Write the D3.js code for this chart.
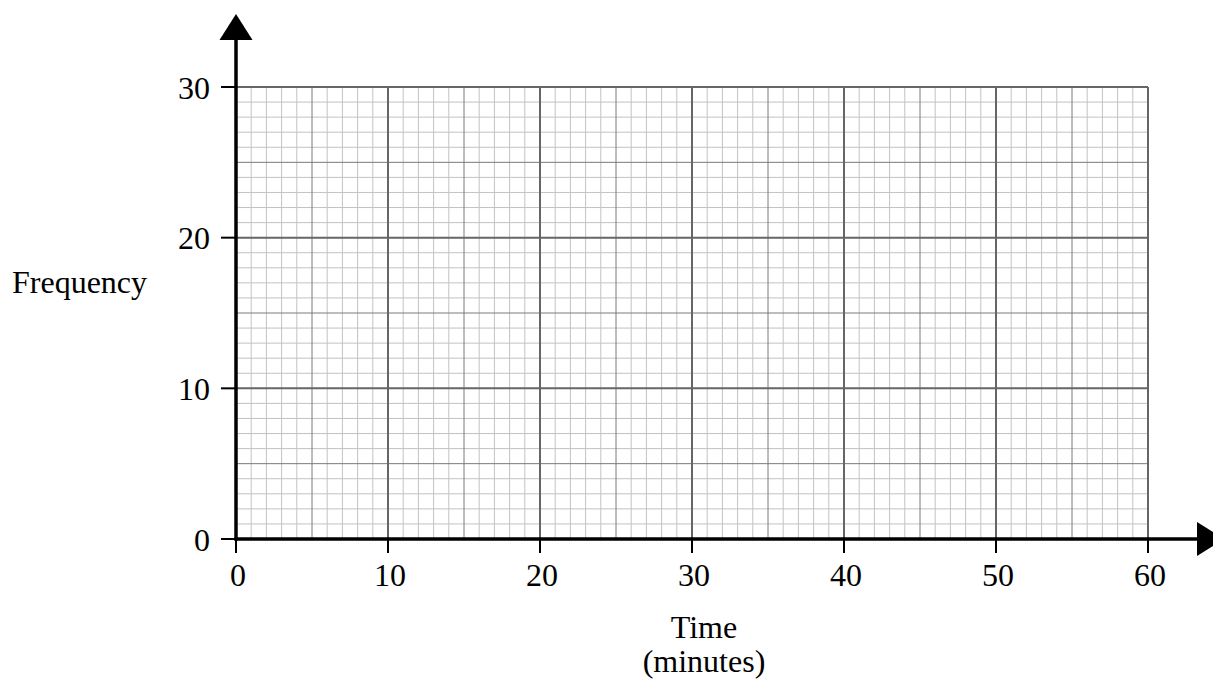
<!DOCTYPE html>
<html><head><meta charset="utf-8">
<script src="https://cdn.jsdelivr.net/npm/d3@7"></script>
<style>body{margin:0;background:#fff}svg{display:block}text{font-family:"Liberation Serif","Times New Roman",serif;fill:#000}</style>
</head><body>
<svg id="c" width="1213" height="681"></svg>
<script>
const xDomain = [0, 60];
const yDomain = [0, 30];
const xTicks = [0, 10, 20, 30, 40, 50, 60];
const yTicks = [0, 10, 20, 30];
const xLabel = ["Time", "(minutes)"];
const yLabel = "Frequency";

const svg = d3.select("#c");
const x = d3.scaleLinear().domain(xDomain).range([236, 1148]);
const y = d3.scaleLinear().domain(yDomain).range([539, 87]);

const g = svg.append("g");
const minorX = d3.range(xDomain[0], xDomain[1] + 1, 1);
const minorY = d3.range(yDomain[0], yDomain[1] + 1, 1);
function drawGrid(xs, ys, color, w) {
  g.selectAll(null).data(xs).join("line")
    .attr("x1", d => x(d)).attr("x2", d => x(d))
    .attr("y1", y(yDomain[0])).attr("y2", y(yDomain[1]))
    .attr("stroke", color).attr("stroke-width", w);
  g.selectAll(null).data(ys).join("line")
    .attr("y1", d => y(d)).attr("y2", d => y(d))
    .attr("x1", x(xDomain[0])).attr("x2", x(xDomain[1]))
    .attr("stroke", color).attr("stroke-width", w);
}
drawGrid(minorX.filter(d => d % 5), minorY.filter(d => d % 5), "#c2c2c2", 1);
drawGrid(minorX.filter(d => d % 5 === 0 && d % 10), minorY.filter(d => d % 5 === 0 && d % 10), "#7a7a7a", 1);
drawGrid(minorX.filter(d => d % 10 === 0), minorY.filter(d => d % 10 === 0), "#666", 2);

// axes
svg.append("line").attr("x1", x(0)).attr("x2", x(0)).attr("y1", y(0) + 1.5).attr("y2", 40)
  .attr("stroke", "#000").attr("stroke-width", 3.5);
svg.append("line").attr("x1", x(0) - 1.5).attr("x2", 1198).attr("y1", y(0)).attr("y2", y(0))
  .attr("stroke", "#000").attr("stroke-width", 3.5);
svg.append("path").attr("d", `M${x(0)},14 L${x(0)-16.5},40 L${x(0)+16.5},40 Z`).attr("fill", "#000");
svg.append("path").attr("d", `M1224,${y(0)} L1197,${y(0)-17} L1197,${y(0)+17} Z`).attr("fill", "#000");

// ticks
svg.selectAll(null).data(yTicks).join("line")
  .attr("x1", x(0) - 15).attr("x2", x(0)).attr("y1", d => y(d)).attr("y2", d => y(d))
  .attr("stroke", "#000").attr("stroke-width", 2);
svg.selectAll(null).data(xTicks).join("line")
  .attr("y1", y(0)).attr("y2", y(0) + 14).attr("x1", d => x(d)).attr("x2", d => x(d))
  .attr("stroke", "#000").attr("stroke-width", 2);

svg.selectAll(null).data(yTicks).join("text")
  .attr("x", 210).attr("y", d => y(d) + 11.5).attr("text-anchor", "end")
  .attr("font-size", 32).text(d => d);
svg.selectAll(null).data(xTicks).join("text")
  .attr("x", d => x(d) + 2).attr("y", 586).attr("text-anchor", "middle")
  .attr("font-size", 32).text(d => d);

svg.append("text").attr("x", 12).attr("y", 293).attr("font-size", 32).text(yLabel);
svg.selectAll(null).data(xLabel).join("text")
  .attr("x", 704).attr("y", (d, i) => 638 + i * 34).attr("text-anchor", "middle")
  .attr("font-size", 32).text(d => d);
</script>
</body></html>
